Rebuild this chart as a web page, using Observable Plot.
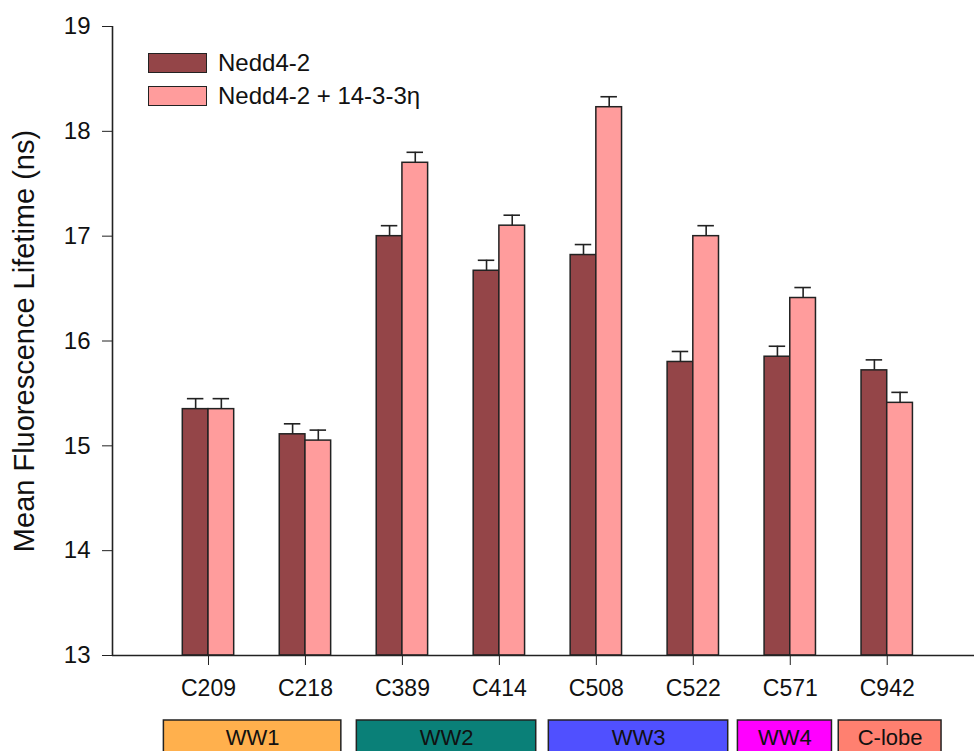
<!DOCTYPE html>
<html>
<head>
<meta charset="utf-8">
<script src="https://cdn.jsdelivr.net/npm/d3@7"></script>
<script src="https://cdn.jsdelivr.net/npm/@observablehq/plot@0.6"></script>
<style>
  html, body { margin: 0; padding: 0; background: #fff; }
  #wrap { position: relative; width: 974px; height: 751px; overflow: hidden; font-family: "Liberation Sans", Arial, sans-serif; }
  .legend { position: absolute; left: 148px; top: 52px; }
  .legend .row { display: flex; align-items: center; height: 21px; margin-bottom: 12px; font-size: 24px; color: #111; }
  .legend .sw { width: 57px; height: 18px; border: 1.5px solid #222; margin-right: 11px; box-sizing: content-box; }
</style>
</head>
<body>
<div id="wrap"></div>
<script>
// ---- data ----
const categories = ["C209", "C218", "C389", "C414", "C508", "C522", "C571", "C942"];
const nedd = [15.35, 15.11, 17.00, 16.67, 16.82, 15.80, 15.85, 15.72];
const neddErr = [0.10, 0.10, 0.10, 0.10, 0.10, 0.10, 0.10, 0.10];
const neddEta = [15.35, 15.05, 17.70, 17.10, 18.23, 17.00, 16.41, 15.41];
const neddEtaErr = [0.10, 0.10, 0.10, 0.10, 0.10, 0.10, 0.10, 0.10];
const seriesNames = ["Nedd4-2", "Nedd4-2 + 14-3-3\u03B7"];
const seriesColors = ["#944548", "#FF9C9C"];
const domainNames = ["WW1", "WW2", "WW3", "WW4", "C-lobe"];
const domainFirst = [0, 2, 4, 6, 7];
const domainLast = [1, 3, 5, 6, 7];
const domainColors = ["#FFB04D", "#0A8078", "#5050FF", "#FF00FF", "#FF8070"];
const yTicks = [13, 14, 15, 16, 17, 18, 19];

// ---- build tables ----
const bw = 0.265; // bar width in category units
const rows = [];
categories.forEach((c, i) => {
  rows.push({i, s: 0, v: nedd[i], e: neddErr[i]});
  rows.push({i, s: 1, v: neddEta[i], e: neddEtaErr[i]});
});
rows.forEach(d => { d.x1 = d.s === 0 ? d.i - bw : d.i; d.x2 = d.s === 0 ? d.i : d.i + bw; d.xc = (d.x1 + d.x2) / 2; });
const padL = [0.46, 0.47, 0.49, 0.54, 0.5];
const padR = [0.37, 0.38, 0.36, 0.43, 0.56];
const boxes = domainNames.map((n, k) => ({name: n, x1: domainFirst[k] - padL[k], x2: domainLast[k] + padR[k], color: domainColors[k]}));

const yMin = 13, yMax = 19;
const xDom = [-0.99, categories.length - 0.1];
const ink = "#222";

const chart = Plot.plot({
  width: 974,
  height: 751,
  marginLeft: 112,
  marginRight: 0,
  marginTop: 26,
  marginBottom: 96,
  style: {fontFamily: "'Liberation Sans', Arial, sans-serif", fontSize: "23px", background: "white", overflow: "visible"},
  x: {type: "linear", domain: xDom, axis: null},
  y: {domain: [yMin, yMax], axis: null},
  marks: [
    Plot.rect(rows, {x1: "x1", x2: "x2", y1: yMin, y2: "v", fill: d => seriesColors[d.s], stroke: ink, strokeWidth: 1.5}),
    Plot.ruleX(rows, {x: "xc", y1: "v", y2: d => d.v + d.e, stroke: ink, strokeWidth: 1.6}),
    Plot.ruleY(rows, {y: d => d.v + d.e, x1: d => d.xc - 0.085, x2: d => d.xc + 0.085, stroke: ink, strokeWidth: 1.6}),
    Plot.ruleY([yMin], {stroke: ink, strokeWidth: 1.6}),
    Plot.ruleX([xDom[0]], {y1: yMin, y2: yMax, stroke: ink, strokeWidth: 1.6}),
    Plot.axisY({ticks: yTicks, tickFormat: d => String(d), tickSize: 10, tickPadding: 12, fontSize: 24, label: null, stroke: ink, fill: "#111"}),
    Plot.axisX({ticks: d3.range(categories.length), tickFormat: i => categories[i], tickSize: 10, tickPadding: 14, fontSize: 23, label: null, stroke: ink, fill: "#111"}),
    Plot.text(["Mean Fluorescence Lifetime (ns)"], {frameAnchor: "left", textAnchor: "middle", dx: -88, rotate: -90, fontSize: 29, fill: "#111"}),
    Plot.rect(boxes, {x1: "x1", x2: "x2", y1: 12.0, y2: 12.38, fill: "color", stroke: ink, strokeWidth: 1.5}),
    Plot.text(boxes, {x: d => (d.x1 + d.x2) / 2, y: 12.218, text: "name", fontSize: 22, fill: "#111"})
  ]
});

const wrap = document.getElementById("wrap");
wrap.appendChild(chart);
const legend = document.createElement("div");
legend.className = "legend";
seriesNames.forEach((n, k) => {
  const row = document.createElement("div");
  row.className = "row";
  const sw = document.createElement("div");
  sw.className = "sw";
  sw.style.background = seriesColors[k];
  const t = document.createElement("span");
  t.textContent = n;
  row.appendChild(sw); row.appendChild(t);
  legend.appendChild(row);
});
wrap.appendChild(legend);
</script>
</body>
</html>
